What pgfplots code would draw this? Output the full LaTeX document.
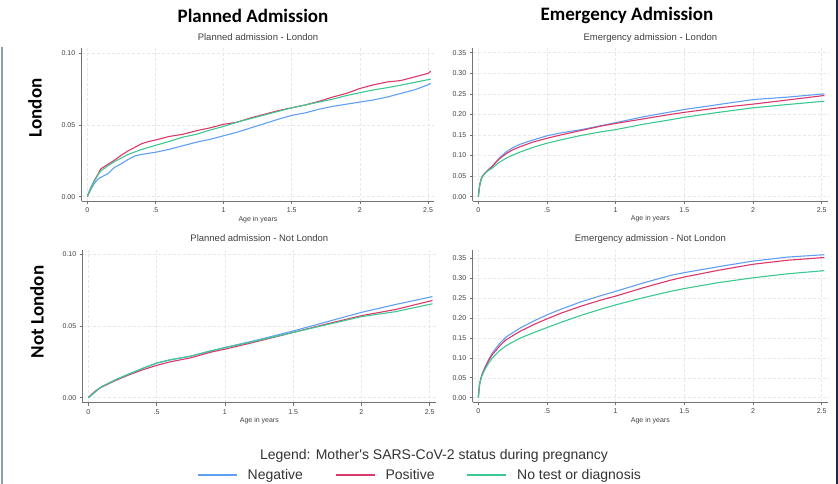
\documentclass[border=0pt]{standalone}
\usepackage{fontspec}
\setmainfont{Liberation Sans}
\newfontfamily\calibri{Carlito}
\newfontfamily\plainsans[Ligatures=NoCommon]{Liberation Sans}
\usepackage{pgfplots}
\pgfplotsset{compat=1.18}
\definecolor{cneg}{RGB}{95,160,245}
\definecolor{cpos}{RGB}{220,55,105}
\definecolor{cnone}{RGB}{60,200,145}
\definecolor{axgray}{RGB}{115,115,115}
\definecolor{gridc}{RGB}{232,232,232}
\definecolor{leftbar}{RGB}{140,158,182}
\definecolor{rightbar}{RGB}{30,45,75}

\pgfplotsset{
 panel/.style={
  scale only axis, anchor=south west,
  xmin=-0.041, xmax=2.546,
  axis x line*=bottom, axis y line*=left,
  xtick pos=lower, ytick pos=left,
  axis line style={axgray, line width=0.8pt},
  xtick={0,0.5,1,1.5,2,2.5}, xticklabels={0,.5,1,1.5,2,2.5},
  tick align=outside, major tick length=3pt,
  tick style={axgray, line width=0.6pt},
  grid=major, major grid style={gridc, dash pattern=on 3pt off 2pt, line width=0.5pt},
  ticklabel style={font=\fontsize{7}{8}\selectfont, text=black!75},
  yticklabel style={/pgf/number format/.cd, fixed, fixed zerofill, precision=2},
  /pgf/number format/assume math mode=true,
  xlabel={Age in years},
  xlabel style={font=\fontsize{7}{8}\selectfont, text=black!75, at={(axis description cs:0.5,0)}, anchor=base, yshift=-20pt},
  title style={font=\fontsize{9.5}{11}\selectfont, text=black!75, at={(axis description cs:0.5,1)}, anchor=base, yshift=2pt},
  every axis plot/.append style={line width=1.1pt, no marks},
 }
}

\begin{document}
\begin{tikzpicture}
\useasboundingbox (0,0) rectangle (838pt,484pt);
\draw[leftbar, line width=2pt] (1.5pt,0pt) -- (1.5pt,437pt);
\draw[rightbar, line width=2pt] (837pt,0pt) -- (837pt,484pt);

\node[font=\calibri\bfseries\fontsize{19}{22}\selectfont] at (253pt,468pt) {Planned Admission};
\node[font=\calibri\bfseries\fontsize{19}{22}\selectfont] at (627pt,469pt) {Emergency Admission};
\node[font=\calibri\bfseries\fontsize{19}{22}\selectfont, rotate=90] at (35pt,376pt) {London};
\node[font=\calibri\bfseries\fontsize{19}{22}\selectfont, rotate=90] at (37pt,172pt) {Not London};

% Top-left
\begin{axis}[panel, at={(81.7pt,282.7pt)}, width=352.6pt, height=153pt,
  ymin=-0.0032, ymax=0.1035, ytick={0,0.05,0.1},
  title={Planned admission - London}]
\addplot[cneg] coordinates {(0,0) (0.02,0.004) (0.05,0.009) (0.08,0.0125) (0.1,0.0135) (0.15,0.016) (0.2,0.0205) (0.25,0.023) (0.3,0.026) (0.35,0.0285) (0.4,0.0295) (0.5,0.031) (0.6,0.033) (0.7,0.0355) (0.8,0.038) (0.9,0.040) (1.0,0.0425) (1.1,0.045) (1.2,0.048) (1.3,0.051) (1.4,0.054) (1.5,0.0567) (1.6,0.0585) (1.7,0.061) (1.8,0.063) (1.9,0.0645) (2.0,0.066) (2.1,0.0675) (2.2,0.0695) (2.3,0.072) (2.4,0.0745) (2.5,0.078) (2.52,0.079)};
\addplot[cpos] coordinates {(0,0) (0.02,0.005) (0.05,0.011) (0.08,0.016) (0.1,0.0195) (0.15,0.0225) (0.2,0.0255) (0.25,0.029) (0.3,0.032) (0.35,0.0345) (0.4,0.037) (0.45,0.0385) (0.5,0.0395) (0.6,0.042) (0.7,0.0435) (0.8,0.046) (0.9,0.048) (1.0,0.0505) (1.1,0.052) (1.2,0.055) (1.3,0.0575) (1.4,0.060) (1.5,0.062) (1.6,0.064) (1.7,0.0665) (1.8,0.0695) (1.9,0.072) (2.0,0.0755) (2.1,0.078) (2.2,0.080) (2.3,0.081) (2.4,0.0835) (2.5,0.086) (2.52,0.0875)};
\addplot[cnone] coordinates {(0,0) (0.02,0.005) (0.05,0.0105) (0.08,0.0155) (0.1,0.018) (0.15,0.0215) (0.2,0.0245) (0.3,0.0295) (0.4,0.033) (0.5,0.0358) (0.6,0.0385) (0.7,0.0415) (0.8,0.0435) (0.9,0.0465) (1.0,0.049) (1.1,0.052) (1.2,0.0545) (1.3,0.057) (1.4,0.0595) (1.5,0.062) (1.6,0.064) (1.7,0.066) (1.8,0.068) (1.9,0.0705) (2.0,0.0725) (2.1,0.0745) (2.2,0.076) (2.3,0.0778) (2.4,0.0797) (2.52,0.082)};
\end{axis}

% Top-right
\begin{axis}[panel, at={(472.7pt,283pt)}, width=355.3pt, height=152.7pt,
  ymin=-0.0105, ymax=0.3607, ytick={0,0.05,0.1,0.15,0.2,0.25,0.3,0.35},
  title={Emergency admission - London}]
\addplot[cneg] coordinates {(0,0) (0.005,0.015) (0.01,0.028) (0.02,0.042) (0.03,0.050) (0.05,0.058) (0.075,0.066) (0.1,0.074) (0.15,0.093) (0.2,0.108) (0.25,0.119) (0.3,0.127) (0.4,0.138) (0.5,0.148) (0.6,0.155) (0.75,0.163) (0.9,0.173) (1.0,0.180) (1.2,0.194) (1.4,0.206) (1.5,0.212) (1.75,0.224) (2.0,0.236) (2.25,0.242) (2.52,0.250)};
\addplot[cpos] coordinates {(0,0) (0.005,0.015) (0.01,0.028) (0.02,0.042) (0.03,0.050) (0.05,0.058) (0.075,0.066) (0.1,0.073) (0.15,0.091) (0.2,0.104) (0.25,0.114) (0.3,0.121) (0.4,0.133) (0.5,0.142) (0.6,0.150) (0.75,0.161) (0.9,0.172) (1.0,0.178) (1.2,0.189) (1.4,0.200) (1.5,0.205) (1.75,0.216) (2.0,0.225) (2.25,0.235) (2.52,0.246)};
\addplot[cnone] coordinates {(0,0) (0.005,0.015) (0.01,0.028) (0.02,0.042) (0.03,0.049) (0.05,0.057) (0.075,0.064) (0.1,0.069) (0.15,0.083) (0.2,0.093) (0.25,0.101) (0.3,0.108) (0.4,0.120) (0.5,0.130) (0.6,0.138) (0.75,0.149) (0.9,0.158) (1.0,0.163) (1.2,0.176) (1.4,0.187) (1.5,0.193) (1.75,0.205) (2.0,0.216) (2.25,0.224) (2.52,0.232)};
\end{axis}

% Bottom-left
\begin{axis}[panel, at={(82.7pt,81.3pt)}, width=353.3pt, height=152.7pt,
  ymin=-0.0035, ymax=0.103, ytick={0,0.05,0.1},
  title={Planned admission - Not London},
  legend columns=3,
  legend style={at={(axis description cs:0.9547,-0.4735)}, anchor=center, draw=none, fill=none,
    font=\fontsize{14}{16}\selectfont, text=black!80, inner sep=0pt,
    /tikz/every odd column/.append style={column sep=8pt},
    /tikz/every even column/.append style={column sep=30pt}},
  legend image code/.code={\draw[line width=1.6pt] (0pt,0pt) -- (39pt,0pt);}]
\addplot[cneg] coordinates {(0,0) (0.02,0.0015) (0.05,0.004) (0.08,0.0065) (0.1,0.0077) (0.2,0.0125) (0.3,0.0167) (0.4,0.0205) (0.5,0.024) (0.6,0.0263) (0.75,0.029) (0.9,0.0325) (1.0,0.035) (1.25,0.0405) (1.5,0.0465) (1.75,0.053) (2.0,0.0595) (2.25,0.065) (2.52,0.0705)};
\addplot[cpos] coordinates {(0,0) (0.02,0.002) (0.05,0.0045) (0.08,0.0065) (0.1,0.0075) (0.2,0.012) (0.3,0.016) (0.4,0.0195) (0.5,0.0225) (0.6,0.025) (0.75,0.0278) (0.9,0.0318) (1.0,0.0338) (1.25,0.0395) (1.5,0.0455) (1.75,0.0515) (2.0,0.0572) (2.25,0.0615) (2.52,0.0678)};
\addplot[cnone] coordinates {(0,0) (0.02,0.0015) (0.05,0.004) (0.08,0.0065) (0.1,0.0078) (0.2,0.0125) (0.3,0.0165) (0.4,0.0205) (0.5,0.0242) (0.6,0.0265) (0.75,0.029) (0.9,0.0328) (1.0,0.0348) (1.25,0.040) (1.5,0.0455) (1.75,0.051) (2.0,0.0565) (2.25,0.060) (2.52,0.0655)};
\legend{Negative, Positive, No test or diagnosis}
\end{axis}

% Bottom-right
\begin{axis}[panel, at={(472.7pt,81.7pt)}, width=355.3pt, height=152.3pt,
  ymin=-0.0115, ymax=0.3708, ytick={0,0.05,0.1,0.15,0.2,0.25,0.3,0.35},
  title={Emergency admission - Not London}]
\addplot[cneg] coordinates {(0,0) (0.005,0.02) (0.01,0.035) (0.02,0.05) (0.03,0.062) (0.05,0.078) (0.075,0.096) (0.1,0.1115) (0.15,0.134) (0.2,0.152) (0.3,0.174) (0.4,0.192) (0.5,0.208) (0.6,0.222) (0.75,0.241) (0.9,0.257) (1.0,0.267) (1.2,0.288) (1.4,0.307) (1.5,0.314) (1.75,0.329) (2.0,0.343) (2.25,0.353) (2.52,0.359)};
\addplot[cpos] coordinates {(0,0) (0.005,0.02) (0.01,0.035) (0.02,0.05) (0.03,0.061) (0.05,0.076) (0.075,0.093) (0.1,0.107) (0.15,0.128) (0.2,0.145) (0.3,0.166) (0.4,0.183) (0.5,0.198) (0.6,0.212) (0.75,0.230) (0.9,0.246) (1.0,0.255) (1.2,0.276) (1.4,0.295) (1.5,0.303) (1.75,0.320) (2.0,0.335) (2.25,0.345) (2.52,0.352)};
\addplot[cnone] coordinates {(0,0) (0.005,0.02) (0.01,0.035) (0.02,0.049) (0.03,0.058) (0.05,0.072) (0.075,0.087) (0.1,0.099) (0.15,0.117) (0.2,0.130) (0.3,0.149) (0.4,0.163) (0.5,0.176) (0.6,0.189) (0.75,0.207) (0.9,0.223) (1.0,0.233) (1.2,0.251) (1.4,0.267) (1.5,0.274) (1.75,0.289) (2.0,0.301) (2.25,0.311) (2.52,0.319)};
\end{axis}

\node[font=\fontsize{14}{16}\selectfont, text=black!80, anchor=base] at (434pt,24pt) {Legend: Mother\textquotesingle s SARS-CoV-2 status during pregnancy};
\end{tikzpicture}
\end{document}
